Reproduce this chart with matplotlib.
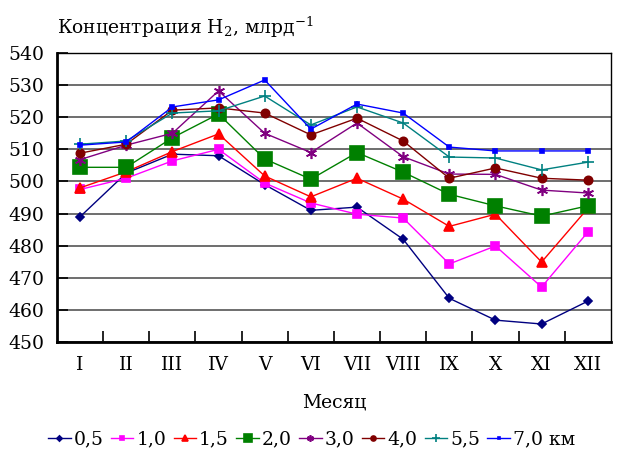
import numpy as np
import matplotlib
matplotlib.use("Agg")
import matplotlib.pyplot as plt

plt.rcParams['font.family'] = ['DejaVu Serif']
plt.rcParams['mathtext.fontset'] = 'dejavuserif'

months = ["I", "II", "III", "IV", "V", "VI", "VII", "VIII", "IX", "X", "XI", "XII"]
labels = ["0,5", "1,0", "1,5", "2,0", "3,0", "4,0", "5,5", "7,0 км"]

h05 = [489, 502.6, 508.5, 508, 499, 491, 492, 482, 463.6, 456.8, 455.6, 462.7]
h10 = [497.5, 501, 506.4, 510, 499.5, 493.3, 489.8, 488.6, 474.3, 479.9, 467.1, 484.2]
h15 = [498, 503, 509.3, 514.8, 501.7, 495.2, 501, 494.5, 486, 489.8, 474.9, 491.6]
h20 = [504.4, 504.4, 513.6, 521, 507, 500.7, 509, 502.9, 496, 492.4, 489.2, 492.4]
h30 = [506.8, 511.3, 515, 528.2, 515, 509, 518.2, 507.7, 502.3, 502.2, 497.3, 496.4]
h40 = [508.8, 511.6, 522.2, 522.9, 521.3, 514.5, 519.7, 512.6, 501, 504.2, 501, 500.4]
h55 = [511.6, 512.6, 521.3, 522, 526.6, 517.6, 523.2, 518.2, 507.6, 507.3, 503.6, 506]
h70 = [511.3, 512.3, 523.2, 525.4, 531.6, 516.3, 524.1, 521.3, 510.7, 509.5, 509.5, 509.5]

series = [h05, h10, h15, h20, h30, h40, h55, h70]
colors = ["#000080", "#ff00ff", "#ff0000", "#008000", "#800080", "#800000", "#008080", "#0000ff"]
markers = ["D", "s", "^", "s", (6, 2, 0), "o", "+", "s"]
msizes = [4.5, 6, 7, 9.5, 8, 6, 9, 3.5]

fig = plt.figure(figsize=(6.17, 4.55), dpi=100)
ax = fig.add_axes([0.0924, 0.2484, 0.8976, 0.6351])

x = np.arange(len(months))
for ys, c, m, ms, lab in zip(series, colors, markers, msizes, labels):
    ax.plot(x, ys, color=c, marker=m, markersize=ms, linewidth=1,
            markeredgecolor=c, markerfacecolor=c, markeredgewidth=1.2, label=lab)

ax.set_xlim(-0.5, 11.5)
ax.set_ylim(450, 540)
ax.set_yticks(np.arange(450, 541, 10))
ax.yaxis.grid(True, color="#555555", linewidth=1.2)
ax.set_axisbelow(True)

ax.set_xticks(np.arange(0.5, 11, 1))
ax.set_xticklabels([])
ax.set_xticks(x, minor=True)
ax.set_xticklabels(months, minor=True)
ax.tick_params(axis="x", which="major", direction="in", length=8, width=1.2)
ax.tick_params(axis="x", which="minor", length=0, pad=10, labelsize=13.5)
ax.tick_params(axis="y", direction="in", length=8, width=1.2, labelsize=13.5, pad=9)

for s in ["left", "bottom"]:
    ax.spines[s].set_linewidth(2)
for s in ["top", "right"]:
    ax.spines[s].set_linewidth(1)

ax.set_xlabel("Месяц", fontsize=13.5, labelpad=14)
fig.text(0.0924, 0.94, "Концентрация H$_2$, млрд$^{-1}$", fontsize=13.5,
         ha="left", va="center")

fig.legend(loc="center", bbox_to_anchor=(0.505, 0.035), ncol=8, frameon=False,
           fontsize=13.5, handlelength=1.2, handletextpad=0.15, columnspacing=0.4,
           markerscale=0.6)

fig.savefig("out.png", dpi=100)
